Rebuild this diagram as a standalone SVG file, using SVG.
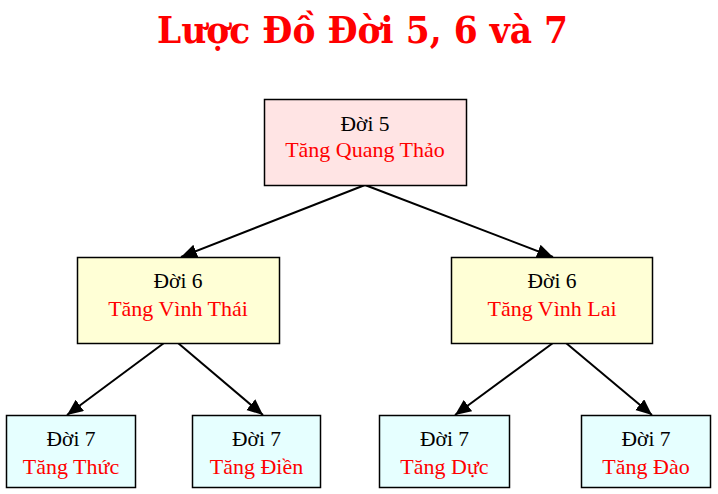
<svg xmlns="http://www.w3.org/2000/svg" width="718" height="494" viewBox="0 0 718 494">
<style>
.box{stroke:#000;stroke-width:1.5}
.g5{fill:#FFE4E4}
.g6{fill:#FFFFD6}
.g7{fill:#E6FFFF}
.t1{font-family:"Liberation Serif","Times New Roman",serif;font-size:21.5px;fill:#000;text-anchor:middle}
.t2{font-family:"Liberation Serif","Times New Roman",serif;font-size:22px;fill:#FF0000;text-anchor:middle}
.title{font-family:"DejaVu Serif","Liberation Serif",serif;font-weight:900;font-size:37px;fill:#FF0000;text-anchor:middle}
.conn line{stroke:#000;stroke-width:2}
</style>
<defs>
<marker id="arr" markerUnits="userSpaceOnUse" markerWidth="17" markerHeight="15" refX="16" refY="7" orient="auto">
<path d="M0,0 L16,7 L0,14 z" fill="#000"/>
</marker>
</defs>
<rect width="718" height="494" fill="#fff"/>
<text class="title" x="362.5" y="43" textLength="411" lengthAdjust="spacingAndGlyphs">Lược Đồ Đời 5, 6 và 7</text>
<g id="connectors" class="conn">
<line x1="365" y1="185" x2="181" y2="257" marker-end="url(#arr)"/>
<line x1="365" y1="185" x2="553" y2="257" marker-end="url(#arr)"/>
<line x1="164" y1="343" x2="67" y2="415" marker-end="url(#arr)"/>
<line x1="178" y1="343" x2="263" y2="415" marker-end="url(#arr)"/>
<line x1="553" y1="343" x2="455" y2="415" marker-end="url(#arr)"/>
<line x1="566" y1="343" x2="652" y2="415" marker-end="url(#arr)"/>
</g>
<g id="n5">
<rect class="box g5" x="264.5" y="99.5" width="202" height="86"/>
<text class="t1" x="365" y="131">Đời 5</text>
<text class="t2" x="365" y="157">Tăng Quang Thảo</text>
</g>
<g id="n6a">
<rect class="box g6" x="77.5" y="257.5" width="202" height="86"/>
<text class="t1" x="178" y="288">Đời 6</text>
<text class="t2" x="178" y="316">Tăng Vình Thái</text>
</g>
<g id="n6b">
<rect class="box g6" x="451.5" y="257.5" width="201" height="86"/>
<text class="t1" x="552" y="288">Đời 6</text>
<text class="t2" x="552" y="316">Tăng Vình Lai</text>
</g>
<g id="n7a">
<rect class="box g7" x="6.5" y="415.5" width="129" height="72"/>
<text class="t1" x="71" y="446">Đời 7</text>
<text class="t2" x="71" y="474">Tăng Thức</text>
</g>
<g id="n7b">
<rect class="box g7" x="192.5" y="415.5" width="128" height="72"/>
<text class="t1" x="256.5" y="446">Đời 7</text>
<text class="t2" x="256.5" y="474">Tăng Điền</text>
</g>
<g id="n7c">
<rect class="box g7" x="379.5" y="415.5" width="130" height="72"/>
<text class="t1" x="444.5" y="446">Đời 7</text>
<text class="t2" x="444.5" y="474">Tăng Dực</text>
</g>
<g id="n7d">
<rect class="box g7" x="581.5" y="415.5" width="129" height="72"/>
<text class="t1" x="646" y="446">Đời 7</text>
<text class="t2" x="646" y="474">Tăng Đào</text>
</g>
</svg>
